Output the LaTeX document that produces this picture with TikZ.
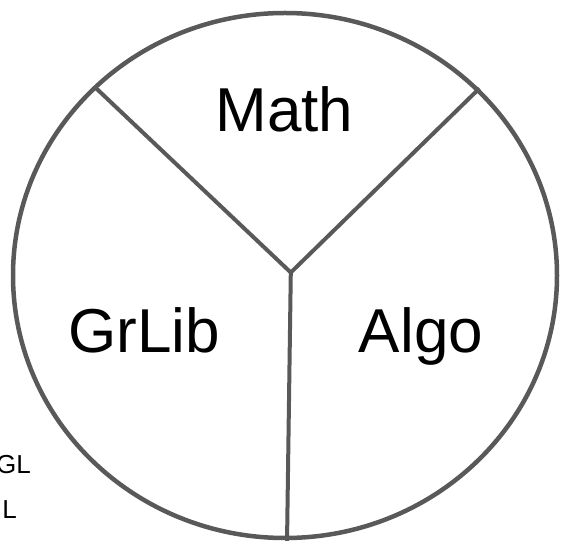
\documentclass[tikz,border=0pt]{standalone}
\usepackage{fontspec}
\setmainfont{Liberation Sans}
\definecolor{linegray}{HTML}{595959}
\tikzset{
  outline/.style={draw=linegray, line width=4.5pt},
  spoke/.style={draw=linegray, line width=4pt},
  biglabel/.style={anchor=base, inner sep=0pt, font=\fontsize{62}{62}\selectfont},
  smalllabel/.style={anchor=base east, inner sep=0pt, font=\fontsize{26}{26}\selectfont}
}
\begin{document}
\begin{tikzpicture}[x=1pt,y=1pt]
\useasboundingbox (0,0) rectangle (563,541);
\draw[outline] (285,265.5) ellipse [x radius=272, y radius=262.5];
\coordinate (hub) at (290.8,268.5);
\coordinate (ul) at (95.2,453.6);
\coordinate (ur) at (479.4,452.6);
\coordinate (bot) at (287,-2);
\draw[spoke, line join=miter] (ul) -- (hub) -- (ur);
\draw[spoke] (hub) -- (bot);
\node[biglabel] (math) at (284.5,409) {Math};
\node[biglabel] (grlib) at (144,188) {GrLib};
\node[biglabel] (algo) at (421,188) {Algo};
\node[smalllabel] (gl) at (31,67) {GL};
\node[smalllabel] (l) at (17,22) {L};
\end{tikzpicture}
\end{document}
